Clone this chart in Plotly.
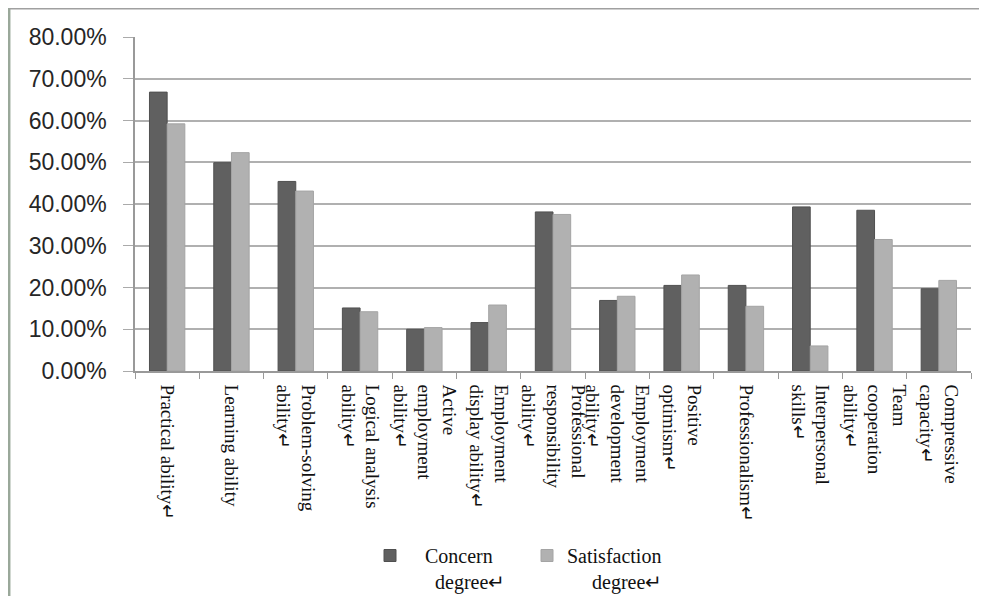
import plotly.graph_objects as go

categories = [
    "Practical ability↵",
    "Learning ability",
    "Problem-solving<br>ability↵",
    "Logical analysis<br>ability↵",
    "Active<br>employment<br>ability↵",
    "Employment<br>display ability↵",
    "Professional<br>responsibility<br>ability↵",
    "Employment<br>development<br>ability↵",
    "Positive<br>optimism↵",
    "Professionalism↵",
    "Interpersonal<br>skills↵",
    "Team<br>cooperation<br>ability↵",
    "Compressive<br>capacity↵",
]
concern = [0.668, 0.499, 0.454, 0.151, 0.100, 0.116, 0.381, 0.169, 0.205, 0.205, 0.393, 0.385, 0.197]
satisfaction = [0.592, 0.523, 0.431, 0.142, 0.104, 0.158, 0.375, 0.179, 0.230, 0.155, 0.060, 0.315, 0.217]
y_ticks = [0, 0.1, 0.2, 0.3, 0.4, 0.5, 0.6, 0.7, 0.8]
series_names = [
    "\u00a0\u00a0\u00a0Concern<br>\u00a0\u00a0\u00a0\u00a0\u00a0degree↵",
    "Satisfaction<br>\u00a0\u00a0\u00a0\u00a0\u00a0degree↵",
]

fig = go.Figure()
fig.add_trace(go.Bar(
    x=categories, y=concern, name=series_names[0],
    marker=dict(color="#606060", line=dict(color="#505050", width=1)),
))
fig.add_trace(go.Bar(
    x=categories, y=satisfaction, name=series_names[1],
    marker=dict(color="#b1b1b1", line=dict(color="#a4a4a4", width=1)),
))

# page body has an 8px margin: figure coordinates = screen coordinates - 8
OFF = 8
W, H = 979, 588
L, R, T, B = 127, 16, 29, 225
pw, ph = W - L - R, H - T - B

def px(xs):
    return (xs - OFF - L) / pw

def py(ys):
    return (H - B - (ys - OFF)) / ph

fig.update_layout(
    width=W, height=H,
    margin=dict(l=L, r=R, t=T, b=B, autoexpand=False),
    paper_bgcolor="white", plot_bgcolor="white",
    barmode="group", bargap=0.45, bargroupgap=0,
    showlegend=True,
    legend=dict(
        orientation="h", x=px(370), xanchor="left", y=py(536), yanchor="top",
        font=dict(family="Liberation Serif", size=20, color="#111111"),
        itemwidth=30, traceorder="normal", valign="top",
        entrywidth=112, entrywidthmode="pixels",
        bgcolor="rgba(0,0,0,0)",
    ),
    xaxis=dict(
        type="category", tickangle=90, tickson="boundaries",
        ticks="outside", ticklen=6, tickcolor="#999999",
        showline=True, linecolor="#999999", linewidth=1.5,
        showgrid=False, automargin=False, ticklabelstandoff=8,
        tickfont=dict(family="Liberation Serif", size=19, color="#111111"),
        range=[-0.5, len(categories) - 0.5],
    ),
    yaxis=dict(
        range=[0, 0.8], tickvals=y_ticks, tickformat=".2%",
        ticks="outside", ticklen=10, tickcolor="#aaaaaa",
        showline=True, linecolor="#999999", linewidth=1.5,
        showgrid=True, gridcolor="#b0b0b0", gridwidth=1.5,
        zeroline=False, automargin=False, ticklabelstandoff=12,
        tickfont=dict(family="Liberation Sans", size=23, color="#262626"),
    ),
    shapes=[
        dict(type="line", xref="paper", yref="paper",
             x0=px(9.2), x1=px(9.2), y0=py(OFF), y1=py(OFF + H), line=dict(color="#9aa89a", width=2.5)),
        dict(type="line", xref="paper", yref="paper",
             x0=px(9.2), x1=px(OFF + W), y0=py(8.8), y1=py(8.8), line=dict(color="#a0a0a0", width=1.5)),
    ],
)

fig.write_html("out.html")
